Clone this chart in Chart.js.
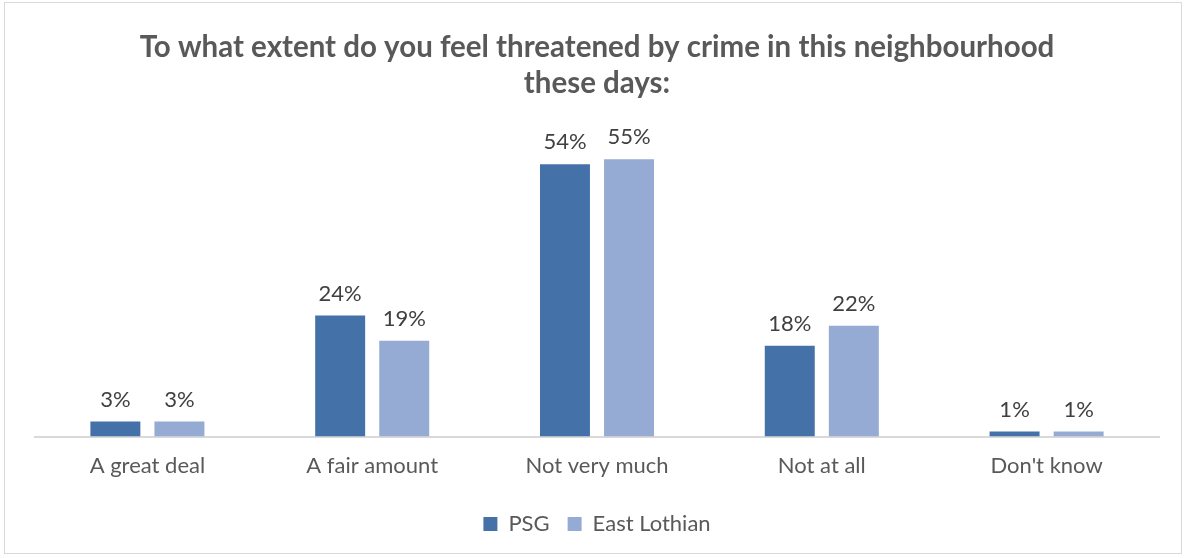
<!DOCTYPE html>
<html>
<head>
<meta charset="utf-8">
<script src="https://cdn.jsdelivr.net/npm/chart.js@4"></script>
<style>
  html, body { margin: 0; padding: 0; background: #fff; }
  #wrap { position: absolute; left: 4px; top: 2px; width: 1178px; height: 552px; border: 1px solid #d9d9d9; box-sizing: border-box; }
  #wrap canvas { display: block; }
</style>
</head>
<body>
<div id="wrap"><canvas id="crime-chart"></canvas></div>
<script>
// Données
const categories = ['A great deal', 'A fair amount', 'Not very much', 'Not at all', "Don't know"];
const psgValues = [3, 24, 54, 18, 1];
const eastLothianValues = [3, 19, 55, 22, 1];
const titleLines = ['To what extent do you feel threatened by crime in this neighbourhood', 'these days:'];

const FONT = 'Lato, "Open Sans", sans-serif';

// Étiquettes de valeurs au-dessus des barres
const barLabels = {
  id: 'barLabels',
  afterDatasetsDraw(chart) {
    const c = chart.ctx;
    c.save();
    c.font = '22px ' + FONT;
    c.fillStyle = '#404040';
    c.textAlign = 'center';
    c.textBaseline = 'bottom';
    chart.data.datasets.forEach((ds, i) => {
      chart.getDatasetMeta(i).data.forEach((bar, j) => {
        c.fillText(ds.data[j] + '%', bar.x, bar.y - 11);
      });
    });
    c.restore();
  }
};

const ctx = document.getElementById('crime-chart').getContext('2d');
const chart = new Chart(ctx, {
  type: 'bar',
  data: {
    labels: categories,
    datasets: [
      { label: 'PSG', data: psgValues, backgroundColor: '#4472a8' },
      { label: 'East Lothian', data: eastLothianValues, backgroundColor: '#95abd3' }
    ]
  },
  options: {
    responsive: true,
    maintainAspectRatio: false,
    animation: false,
    categoryPercentage: 0.57,
    barPercentage: 0.78,
    layout: { padding: { left: 30, right: 22, top: 0, bottom: 8 } },
    plugins: {
      title: {
        display: true,
        text: titleLines,
        color: '#595959',
        font: { family: FONT, size: 29.5, weight: 'bold', lineHeight: 1.22 },
        padding: { top: 26, bottom: 33 }
      },
      legend: {
        position: 'bottom',
        labels: {
          color: '#595959',
          font: { family: FONT, size: 22 },
          boxWidth: 14,
          boxHeight: 14,
          padding: 18
        }
      },
      tooltip: { enabled: false }
    },
    scales: {
      x: {
        grid: { display: false, drawTicks: false },
        border: { color: '#d9d9d9', width: 2 },
        ticks: { color: '#595959', font: { family: FONT, size: 22 }, padding: 16 }
      },
      y: { display: false, min: 0, max: 60 }
    }
  },
  plugins: [barLabels]
});
</script>
</body>
</html>
